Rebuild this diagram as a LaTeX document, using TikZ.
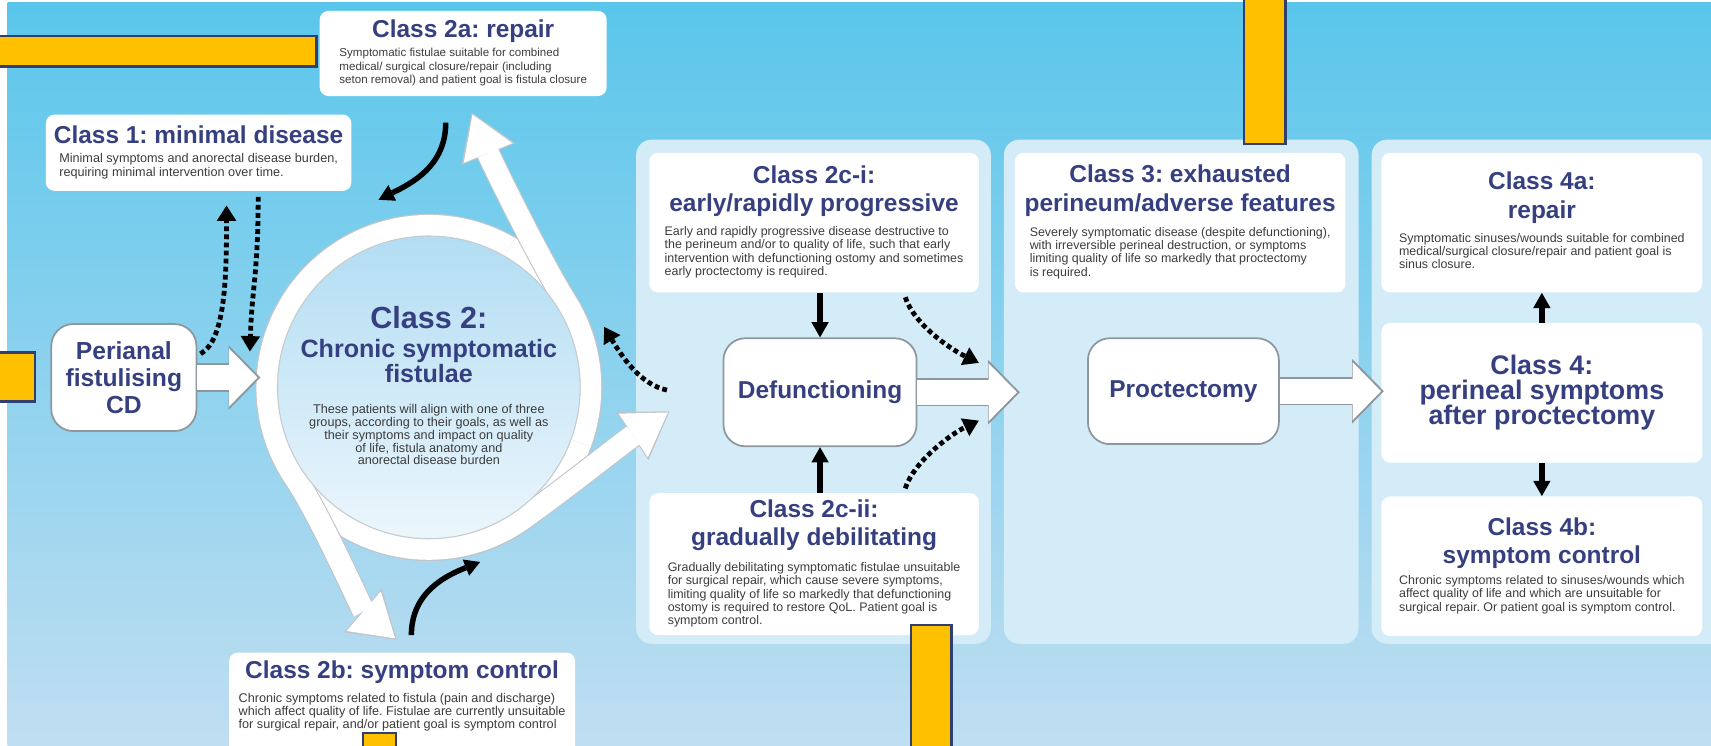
\documentclass[tikz,border=0pt]{standalone}
\usepackage{fontspec}
\setmainfont{Liberation Sans}
\usetikzlibrary{arrows.meta,calc,positioning}

\definecolor{navy}{RGB}{54,64,128}
\definecolor{bodygray}{RGB}{60,60,60}
\definecolor{bgtop}{RGB}{90,198,235}
\definecolor{bgmid}{RGB}{150,210,238}
\definecolor{bgbot}{RGB}{192,222,241}
\definecolor{panelblue}{RGB}{211,236,248}
\definecolor{disctop}{RGB}{178,221,243}
\definecolor{discbot}{RGB}{236,246,252}
\definecolor{edgegray}{RGB}{142,150,158}
\definecolor{redact}{RGB}{255,192,0}
\definecolor{redactline}{RGB}{47,63,111}

\frenchspacing
\newcommand{\ttlfont}{\fontsize{11.2}{13}\selectfont\bfseries}
\newcommand{\bigttlfont}{\fontsize{12.3}{11.4}\selectfont\bfseries\lineskiplimit=-5pt}
\newcommand{\bodylines}[2][5.7]{{\normalfont\fontsize{#1}{6.1}\selectfont\color{bodygray}%
  \begin{tabular}[t]{@{}l@{}}#2\end{tabular}}}

\begin{document}
\begin{tikzpicture}[x=0.5pt, y=0.5pt,
    infobox/.style={fill=white, rounded corners=4pt, inner sep=0pt, align=center,
      text=navy, font=\ttlfont},
    stepbox/.style={fill=white, draw=edgegray, line width=0.8pt, rounded corners=10pt,
      inner sep=0pt, align=center, text=navy, font=\ttlfont},
    panel/.style={fill=panelblue, rounded corners=7pt},
    fatarrow/.style={white, line width=11.5pt,
      -{Triangle[width=26.5pt, length=13pt, line width=0pt]},
      preaction={draw=edgegray, line width=13pt, shorten >=-1.3pt,
        -{Triangle[width=29.5pt, length=14.5pt, line width=0pt]}}},
    ringarrow/.style={white, line width=10pt,
      -{Triangle[width=24pt, length=19pt, line width=0pt]},
      preaction={draw=edgegray!55, line width=11pt, shorten >=-1pt,
        -{Triangle[width=26.5pt, length=20.5pt, line width=0pt]}}},
    solidarrow/.style={line width=2.5pt,
      -{Triangle[width=8pt, length=7pt, line width=0pt]}},
    dotarrow/.style={line width=2.2pt, dash pattern=on 2.2pt off 1.5pt,
      -{Triangle[width=9pt, length=7pt, line width=0pt]}},
    redbox/.style={fill=redact, draw=redactline, line width=1pt}]

  % frame and background
  \useasboundingbox (0,0) rectangle (1568,-683);
  \clip (0,0) rectangle (1568,-683);
  \fill[white] (0,0) rectangle (1568,-683);
  \shade[top color=bgtop, middle color=bgmid, bottom color=bgbot] (7,-2) rectangle (1568,-683);

  % column panels
  \fill[panel] (583,-128) rectangle (908,-590);
  \fill[panel] (920,-128) rectangle (1245,-590);
  \fill[panel] (1257,-128) rectangle (1600,-590);

  % Class 2 ring and its three arrows
  \coordinate (c2) at (393,-355);
  \draw[edgegray!55, line width=11pt] (c2) circle[radius=148];
  \draw[white, line width=10pt] (c2) circle[radius=148];
  \coordinate (tipA) at (433,-105);
  \coordinate (tipB) at (362,-585);
  \coordinate (tipC) at (612,-378);
  \draw[ringarrow] ($(c2)+(230:148)$) arc[start angle=230, end angle=305, radius=148]
    .. controls +(41,29) and +(-42,-28) .. (tipC);
  \draw[ringarrow] ($(c2)+(-20:148)$) arc[start angle=-20, end angle=32, radius=148]
    .. controls +(-25,40) and +(17,-42) .. (tipA);
  \draw[ringarrow] ($(c2)+(60:148)$) arc[start angle=60, end angle=213, radius=148]
    .. controls +(23,-33) and +(-30,26) .. (tipB);

  \node[circle, minimum size=138pt, inner sep=0pt, top color=disctop, bottom color=discbot,
    draw=edgegray!50, line width=0.5pt, align=center, text=navy,
    font=\fontsize{11.5}{11.5}\selectfont\bfseries] (cls2) at (c2)
    {{\fontsize{14}{14}\selectfont Class 2:}\\[2pt]
     Chronic symptomatic\\ fistulae\\[2.5pt]
     {\normalfont\fontsize{5.8}{5.6}\selectfont\color{bodygray}%
      \begin{tabular}[t]{@{}c@{}}These patients will align with one of three\\
      groups, according to their goals, as well as\\
      their symptoms and impact on quality\\
      of life, fistula anatomy and\\
      anorectal disease burden\end{tabular}}};

  % left column
  \node[infobox, minimum width=131.5pt, minimum height=39pt] (b2a) at (424.5,-49)
    {Class 2a: repair\\[-4pt]
     \bodylines[5.3]{Symptomatic fistulae suitable for combined\\
     medical/ surgical closure/repair (including\\
     seton removal) and patient goal is fistula closure}};
  \node[infobox, minimum width=140pt, minimum height=35pt] (b1) at (182,-140)
    {Class 1: minimal disease\\[-4pt]
     \bodylines[5.8]{Minimal symptoms and anorectal disease burden,\\
     requiring minimal intervention over time.}};
  \node[stepbox, font=\fontsize{11.3}{12.5}\selectfont\bfseries,
    minimum width=66.5pt, minimum height=49pt] (peri) at (113.5,-346)
    {Perianal\\fistulising\\CD};
  \fill[white, rounded corners=4pt] (210,-598) rectangle (527,-720);
  \node[infobox, fill=none, anchor=north] (b2b) at (368.5,-605)
    {Class 2b: symptom control\\[-2pt]
     \bodylines[5.8]{Chronic symptoms related to fistula (pain and discharge)\\
     which affect quality of life. Fistulae are currently unsuitable\\
     for surgical repair, and/or patient goal is symptom control}};

  % Class 2c column
  \node[infobox, minimum width=151pt, minimum height=64pt] (b2ci) at (746,-204)
    {Class 2c-i:\\early/rapidly progressive\\[-2pt]
     \bodylines{Early and rapidly progressive disease destructive to\\
     the perineum and/or to quality of life, such that early\\
     intervention with defunctioning ostomy and sometimes\\
     early proctectomy is required.}};
  \node[stepbox, minimum width=88.5pt, minimum height=49.5pt] (defun) at (751.5,-359.5)
    {Defunctioning};
  \node[infobox, minimum width=151pt, minimum height=65pt] (b2cii) at (746,-517)
    {Class 2c-ii:\\gradually debilitating\\[-1pt]
     \bodylines{Gradually debilitating symptomatic fistulae unsuitable\\
     for surgical repair, which cause severe symptoms,\\
     limiting quality of life so markedly that defunctioning\\
     ostomy is required to restore QoL. Patient goal is\\
     symptom control.}};

  % Class 3 column
  \node[infobox, minimum width=151.5pt, minimum height=64pt] (b3) at (1081.5,-204)
    {Class 3: exhausted\\perineum/adverse features\\[-1.5pt]
     \bodylines{Severely symptomatic disease (despite defunctioning),\\
     with irreversible perineal destruction, or symptoms\\
     limiting quality of life so markedly that proctectomy\\
     is required.}};
  \node[stepbox, minimum width=87.5pt, minimum height=48.5pt] (proct) at (1084.5,-358.5)
    {Proctectomy};

  % Class 4 column
  \node[infobox, minimum width=147pt, minimum height=64pt] (b4a) at (1413,-204)
    {Class 4a:\\repair\\[-2pt]
     \bodylines{Symptomatic sinuses/wounds suitable for combined\\
     medical/surgical closure/repair and patient goal is\\
     sinus closure.}};
  \node[infobox, font=\bigttlfont, minimum width=147pt, minimum height=64pt] (b4) at (1413,-360)
    {Class 4:\\perineal symptoms\\after proctectomy};
  \node[infobox, minimum width=147pt, minimum height=64pt] (b4b) at (1413,-519)
    {Class 4b:\\symptom control\\[-3.5pt]
     \bodylines{Chronic symptoms related to sinuses/wounds which\\
     affect quality of life and which are unsuitable for\\
     surgical repair. Or patient goal is symptom control.}};

  % block arrows
  \coordinate (tipP) at (236,-346);
  \coordinate (tip3) at (932,-359.5);
  \draw[fatarrow] (peri.east) -- (tipP);
  \draw[fatarrow] (defun.east) -- (tip3);
  \draw[fatarrow] (proct.east) -- (proct.east -| b4.west);

  % solid arrows
  \draw[solidarrow] (defun.north |- b2ci.south) -- (defun.north);
  \draw[solidarrow] (defun.south |- b2cii.north) -- (defun.south);
  \draw[solidarrow] (b4.north) -- (b4a.south);
  \draw[solidarrow] (b4.south) -- (b4b.north);
  \coordinate (k1s) at ($(b2a.south)+(-16,-24)$);
  \coordinate (k1e) at ($(c2)+(105:178)$);
  \coordinate (k2s) at (377,-582);
  \coordinate (k2e) at (440,-515);
  \draw[solidarrow] (k1s) .. controls +(0,-40) and +(30,15) .. (k1e);
  \draw[solidarrow] (k2s) .. controls +(0,40) and +(-30,-12) .. (k2e);

  % dotted arrows
  \coordinate (d1e) at ($(b1.south west)+(166,-13)$);
  \coordinate (d2s) at ($(b1.south west)+(195,-5)$);
  \coordinate (d2e) at (229,-322);
  \coordinate (d3e) at ($(c2)+(19:170)$);
  \draw[dotarrow] ($(peri.north east)+(3,-28)$) .. controls +(22,12) and +(0,-70) .. (d1e);
  \draw[dotarrow] (d2s) .. controls +(0,-70) and +(2,60) .. (d2e);
  \draw[dotarrow] ($(defun.west)+(-51,2)$) .. controls +(-25,5) and +(15,-25) .. (d3e);
  \draw[dotarrow] ($(b2ci.south west)+(235,-4)$) .. controls +(8,-25) and +(-25,12) .. ($(tip3)+(-35,27)$);
  \draw[dotarrow] ($(b2cii.north west)+(235,4)$) .. controls +(8,25) and +(-25,-12) .. ($(tip3)+(-35,-26)$);

  % redaction boxes
  \draw[redbox] (-2,-33) rectangle (290,-61);
  \draw[redbox] (-2,-323) rectangle (32,-368);
  \draw[redbox] (1140,2) rectangle (1178,-132);
  \draw[redbox] (835,-573) rectangle (872,-690);
  \draw[redbox] (333,-672) rectangle (363,-690);
\end{tikzpicture}
\end{document}
